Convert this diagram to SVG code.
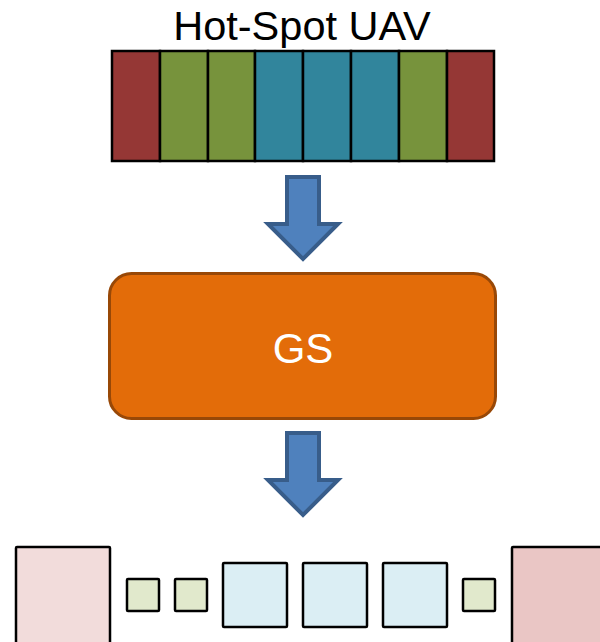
<svg xmlns="http://www.w3.org/2000/svg" width="600" height="642" viewBox="0 0 600 642">
<style>
.seg{stroke:#000;stroke-width:2.5}
.red{fill:#953735}.green{fill:#77933C}.teal{fill:#31859C}
.arrow{fill:#4F81BD;stroke:#385D8A;stroke-width:4;stroke-linejoin:miter}
.sq{stroke:#000;stroke-width:2.5}
.pink{fill:#F2DCDB}.pink2{fill:#EAC6C5}.lg{fill:#E1E9CC}.lb{fill:#DBEEF4}
.t{font-family:"Liberation Sans",Arial,sans-serif;text-anchor:middle}
</style>
<rect width="600" height="642" fill="#fff"/>
<g id="hotspot-uav">
<text class="t" x="302" y="40" font-size="41.5" fill="#000">Hot-Spot UAV</text>
<rect class="seg red" x="112" y="51" width="48" height="110"/>
<rect class="seg green" x="160" y="51" width="48" height="110"/>
<rect class="seg green" x="208" y="51" width="47" height="110"/>
<rect class="seg teal" x="255" y="51" width="48" height="110"/>
<rect class="seg teal" x="303" y="51" width="48" height="110"/>
<rect class="seg teal" x="351" y="51" width="48" height="110"/>
<rect class="seg green" x="399" y="51" width="48" height="110"/>
<rect class="seg red" x="447" y="51" width="47" height="110"/>
</g>
<g id="connectors">
<path class="arrow" d="M287,177 L319,177 L319,224 L338,224 L303,259 L268,224 L287,224 Z"/>
<path class="arrow" d="M287,433 L319,433 L319,480 L338,480 L303,515 L268,480 L287,480 Z"/>
</g>
<g id="gs">
<rect x="109.5" y="273.5" width="386" height="145" rx="22" fill="#E36C09" stroke="#984807" stroke-width="3"/>
<text class="t" x="303" y="363" font-size="42" fill="#fff">GS</text>
</g>
<g id="output">
<rect class="sq pink" x="16" y="547" width="94" height="100" rx="1"/>
<rect class="sq lg" x="127" y="579" width="32" height="32" rx="1"/>
<rect class="sq lg" x="175" y="579" width="32" height="32" rx="1"/>
<rect class="sq lb" x="223" y="563" width="64" height="64" rx="1"/>
<rect class="sq lb" x="303" y="563" width="64" height="64" rx="1"/>
<rect class="sq lb" x="383" y="563" width="64" height="64" rx="1"/>
<rect class="sq lg" x="463" y="579" width="32" height="32" rx="1"/>
<rect class="sq pink2" x="512" y="547" width="94" height="100" rx="1"/>
</g>
</svg>
